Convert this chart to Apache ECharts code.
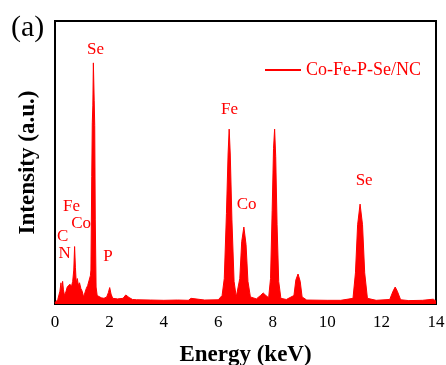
<!DOCTYPE html>
<html>
<head>
<meta charset="utf-8">
<script src="https://cdn.jsdelivr.net/npm/echarts@6/dist/echarts.min.js"></script>
<style>
  html, body { margin: 0; padding: 0; background: #fff; }
  #main { width: 446px; height: 365px; }
</style>
</head>
<body>
<div id="main"></div>
<script>
// spectrum (keV / a.u.)
var energy = [
  0.00, 0.10, 0.18, 0.22, 0.25, 0.28, 0.31, 0.35, 0.40, 0.45, 0.50, 0.55, 0.60, 0.65, 0.69, 0.72, 0.75, 0.78,
  0.82, 0.86, 0.90, 0.95, 1.00, 1.05, 1.10, 1.15, 1.20, 1.25, 1.30, 1.32, 1.35, 1.37, 1.39, 1.41, 1.44, 1.46,
  1.48, 1.51, 1.55, 1.60, 1.70, 1.80, 1.90, 1.96, 2.01, 2.06, 2.12, 2.30, 2.50, 2.60, 2.65, 2.72, 2.85, 3.00,
  3.50, 4.00, 4.50, 4.90, 5.00, 5.05, 5.50, 6.00, 6.14, 6.22, 6.30, 6.36, 6.40, 6.44, 6.50, 6.58, 6.66, 6.72,
  6.79, 6.86, 6.94, 7.02, 7.09, 7.18, 7.40, 7.55, 7.65, 7.75, 7.85, 7.92, 7.98, 8.03, 8.07, 8.11, 8.16, 8.22,
  8.30, 8.50, 8.78, 8.85, 8.93, 9.01, 9.08, 9.25, 10.0, 10.5, 10.95, 11.04, 11.12, 11.21, 11.30, 11.38, 11.48,
  11.8, 12.30, 12.42, 12.50, 12.58, 12.70, 13.0, 13.5, 13.9, 14.0
];
var intensity = [
  0.5, 1.5, 4.5, 7.5, 4.0, 8.0, 5.0, 3.0, 4.3, 6.0, 5.5, 7.0, 6.0, 8.0, 12.0, 20.3, 13.0, 7.5,
  9.0, 6.5, 7.5, 5.5, 4.5, 2.5, 3.0, 5.5, 6.5, 7.0, 10.0, 12.0, 45.0, 64.0, 70.0, 85.2, 72.0, 63.0,
  30.0, 6.0, 3.0, 2.5, 2.2, 2.0, 2.5, 4.0, 5.8, 3.5, 2.0, 1.8, 2.0, 3.2, 3.6, 2.3, 1.6, 1.5,
  1.4, 1.3, 1.4, 1.3, 2.0, 1.3, 1.4, 1.5, 3.0, 9.0, 32.0, 53.0, 61.8, 53.0, 30.0, 8.0, 2.5, 3.0,
  9.0, 22.0, 27.2, 21.0, 8.0, 2.5, 1.8, 3.0, 3.9, 3.0, 2.2, 9.0, 33.0, 55.0, 61.8, 52.0, 28.0, 8.0,
  2.0, 1.6, 3.0, 8.5, 10.6, 8.0, 2.5, 1.4, 1.3, 1.3, 2.0, 11.0, 28.0, 35.3, 28.0, 11.0, 2.0,
  1.3, 1.6, 4.5, 6.0, 4.5, 1.5, 1.2, 1.3, 1.7, 1.0
];
var xTicks = [0, 2, 4, 6, 8, 10, 12, 14];
// element labels: name, keV, a.u.
var peakNames = ['Se', 'Fe', 'Co', 'C', 'N', 'P', 'Fe', 'Co', 'Se'];
var peakX = [1.49, 0.61, 0.96, 0.28, 0.35, 1.95, 6.41, 7.04, 11.36];
var peakY = [89.8, 34.6, 28.6, 24.0, 17.7, 16.6, 68.6, 35.0, 43.5];

var serif = 'Liberation Serif, Times New Roman, serif';
var myChart = echarts.init(document.getElementById('main'));

var spectrum = energy.map(function (e, i) { return [e, intensity[i]]; });
var marks = peakNames.map(function (n, i) {
  return { name: n, coord: [peakX[i], peakY[i]] };
});

var option = {
  animation: false,
  title: {
    text: '(a)',
    left: 6,
    top: 8,
    textStyle: { fontFamily: serif, fontSize: 30, fontWeight: 'normal', color: '#000' }
  },
  legend: {
    left: 260,
    top: 56,
    icon: 'rect',
    itemWidth: 36,
    itemHeight: 2,
    itemGap: 4,
    textStyle: { fontFamily: serif, fontSize: 18, color: '#ff0000' },
    data: ['Co-Fe-P-Se/NC']
  },
  grid: {
    left: 55,
    right: 10,
    top: 21,
    bottom: 61,
    outerBoundsMode: 'none',
    show: true,
    borderColor: '#000',
    borderWidth: 2
  },
  xAxis: {
    type: 'value',
    min: 0,
    max: 14,
    interval: 2,
    name: 'Energy (keV)',
    nameLocation: 'middle',
    nameGap: 40,
    nameTextStyle: { fontFamily: serif, fontSize: 23, fontWeight: 'bold', color: '#000' },
    axisLine: { lineStyle: { color: '#000', width: 2 } },
    axisTick: { show: false },
    splitLine: { show: false },
    axisLabel: {
      margin: 10,
      fontFamily: serif,
      fontSize: 17,
      color: '#000',
      formatter: function (v) { return xTicks.indexOf(v) >= 0 ? String(v) : ''; }
    }
  },
  yAxis: {
    type: 'value',
    min: 0,
    max: 100,
    name: 'Intensity (a.u.)',
    nameLocation: 'middle',
    nameGap: 15,
    nameTextStyle: { fontFamily: serif, fontSize: 23, fontWeight: 'bold', color: '#000' },
    axisLine: { show: true, lineStyle: { color: '#000', width: 2 } },
    axisTick: { show: false },
    axisLabel: { show: false },
    splitLine: { show: false }
  },
  series: [
    {
      name: 'Co-Fe-P-Se/NC',
      type: 'line',
      data: spectrum,
      showSymbol: false,
      symbol: 'none',
      lineStyle: { color: '#ff0000', width: 1 },
      itemStyle: { color: '#ff0000' },
      areaStyle: { color: '#ff0000', opacity: 1 },
      markPoint: {
        symbol: 'circle',
        symbolSize: 0,
        label: {
          show: true,
          position: 'inside',
          formatter: '{b}',
          fontFamily: serif,
          fontSize: 17,
          color: '#ff0000'
        },
        data: marks
      }
    }
  ]
};

myChart.setOption(option);
</script>
</body>
</html>
